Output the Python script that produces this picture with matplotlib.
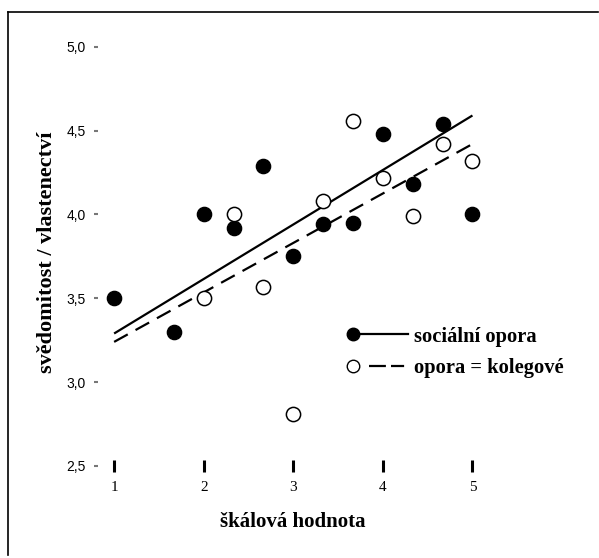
import matplotlib
matplotlib.use("Agg")
import matplotlib.pyplot as plt
from matplotlib.lines import Line2D

# data
x_social = [1, 1.667, 2, 2.333, 2.667, 3, 3.333, 3.667, 4, 4.333, 4.667, 5]
y_social = [3.50, 3.30, 4.00, 3.92, 4.29, 3.75, 3.94, 3.95, 4.48, 4.18, 4.54, 4.00]

x_colleg = [2, 2.333, 2.667, 3, 3.333, 3.667, 4, 4.333, 4.667, 5]
y_colleg = [3.50, 4.00, 3.57, 2.81, 4.08, 4.56, 4.22, 3.99, 4.42, 4.32]

# regression lines (values at ends of the scale)
fit_x = [1, 5]
fit_social = [3.29, 4.59]
fit_colleg = [3.24, 4.42]

xticks = [1, 2, 3, 4, 5]
yticks = [2.5, 3.0, 3.5, 4.0, 4.5, 5.0]
ytick_labels = ["2,5", "3,0", "3,5", "4,0", "4,5", "5,0"]

serif = "Liberation Serif"

fig = plt.figure(figsize=(5.99, 5.58), dpi=100)
ax = fig.add_axes([0.1636, 0.1649, 0.67, 0.7814])

ax.plot(fit_x, fit_social, color="black", lw=1.6, solid_capstyle="butt")
ax.plot(fit_x, fit_colleg, color="black", lw=1.6, ls=(0, (7, 4)))
ax.scatter(x_social, y_social, s=105, color="black", zorder=3)
ax.scatter(x_colleg, y_colleg, s=105, facecolor="white", edgecolor="black",
           linewidth=1.1, zorder=3)

ax.set_xlim(0.82, 5.3)
ax.set_ylim(2.5, 5.1)
for s in ax.spines.values():
    s.set_visible(False)

ax.set_xticks(xticks)
ax.set_xticklabels([str(v) for v in xticks], fontfamily=serif, fontsize=11)
ax.set_yticks(yticks)
ax.set_yticklabels(ytick_labels, fontfamily="Liberation Sans", fontsize=10)
ax.tick_params(axis="x", direction="inout", length=9, width=2.2, pad=6)
ax.tick_params(axis="y", direction="out", length=3, width=1.5,
               color="#777777", pad=6)

ax.set_xlabel("škálová hodnota", fontfamily=serif, fontweight="bold",
              fontsize=15)
ax.xaxis.set_label_coords(0.486, -0.128)
ax.xaxis.label.set_verticalalignment("center")
ax.set_ylabel("svědomitost / vlastenectví", fontfamily=serif,
              fontweight="bold", fontsize=16)
ax.yaxis.set_label_coords(-0.127, 0.49)
ax.yaxis.label.set_verticalalignment("center")

handles = [
    Line2D([], [], color="black", lw=1.6, marker="o", markersize=9,
           markerfacecolor="black"),
    Line2D([], [], color="black", lw=1.6,
           ls=(0, (0, 7.2, 7.6, 2.3, 5.9, 40)), marker="o",
           markersize=9, markerfacecolor="white", markeredgewidth=1.0),
]
leg = ax.legend(handles, ["sociální opora", "opora = kolegové"],
                loc="upper left", bbox_to_anchor=(0.59, 0.362),
                frameon=False, handlelength=2.67, handletextpad=0.3,
                markerfirst=True, labelspacing=0.57,
                prop={"family": serif, "weight": "bold", "size": 14.8})
for h in leg.legend_handles:
    h.set_markevery([0])

# frame lines on left and top of the picture
fig.add_artist(Line2D([0.0134, 0.0134], [0.005, 0.9785], color="black", lw=1.2))
fig.add_artist(Line2D([0.0134, 0.999], [0.9785, 0.9785], color="black", lw=1.2))

fig.savefig("out.png", dpi=100)
